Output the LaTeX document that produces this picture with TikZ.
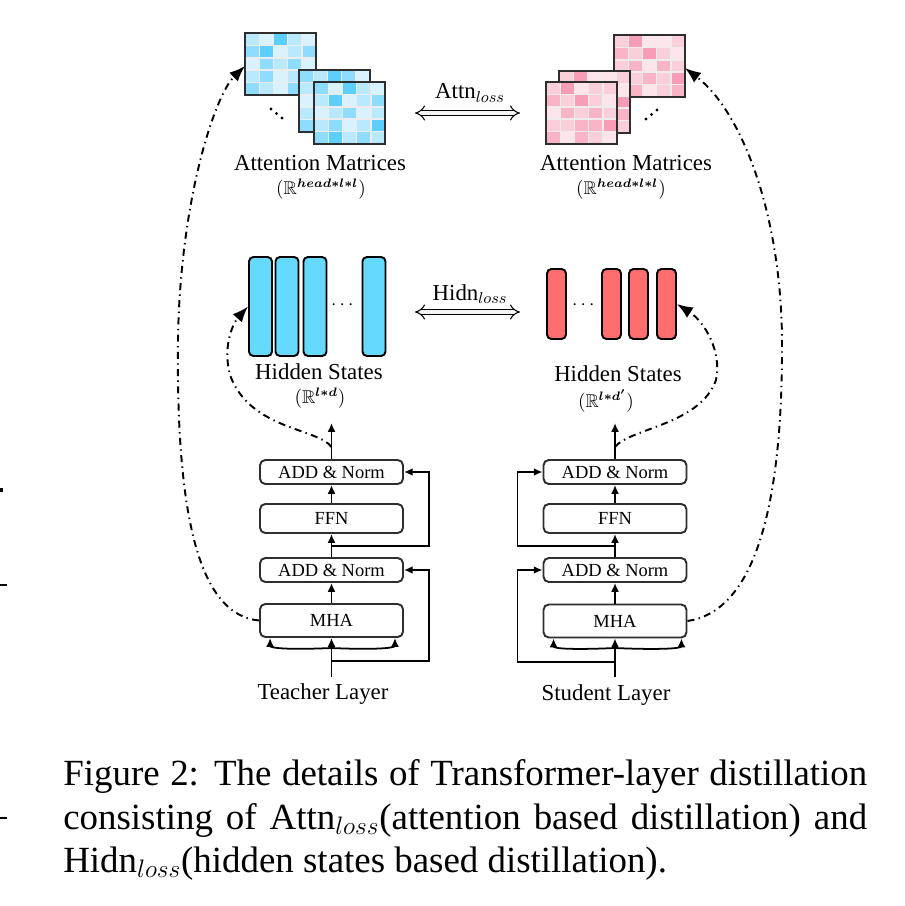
\documentclass[tikz,border=0pt]{standalone}
\usepackage{fontspec}
\setmainfont{Liberation Serif}
\usepackage{amsmath,amssymb}
\usetikzlibrary{arrows.meta,calc}

\definecolor{bl1}{HTML}{5CCFFF}
\definecolor{bl2}{HTML}{8EDCFF}
\definecolor{bl3}{HTML}{B8E9FF}
\definecolor{bl4}{HTML}{D8F3FF}
\definecolor{pk1}{HTML}{F79DB5}
\definecolor{pk2}{HTML}{F9B4C5}
\definecolor{pk3}{HTML}{FBCFD9}
\definecolor{pk4}{HTML}{FDE5EB}
\definecolor{hidblue}{HTML}{66D9FF}
\definecolor{hidred}{HTML}{FF6E6E}
\definecolor{edgegray}{HTML}{2E2E2E}

\tikzset{
  box/.style={draw=edgegray, line width=1.1pt, rounded corners=3pt, minimum width=2.86cm,
    inner sep=0pt, font=\fontsize{10.5}{12}\selectfont},
  hbar/.style={draw=black, line width=1.1pt, rounded corners=2.5pt, inner sep=0pt},
  lbl/.style={inner sep=0pt, font=\fontsize{13}{15}\selectfont},
  mlbl/.style={inner sep=0pt, font=\fontsize{10.5}{12}\selectfont},
  flow/.style={line width=1pt, -{Latex[length=5pt,width=4.5pt]}},
  distil/.style={line width=1.1pt, dash pattern=on 4pt off 2.5pt on 0.8pt off 2.5pt,
    -{Latex[length=9pt,width=7pt]}},
  lossarrow/.style={double=gray!8, double distance=2.4pt, line width=0.6pt, {Implies}-{Implies}},
  cellline/.style={draw=gray!15, line width=0.8pt},
  matframe/.style={draw=edgegray, line width=1.3pt},
  capline/.style={anchor=base west, inner sep=0pt, font=\fontsize{21}{25}\selectfont},
}

% 5x5 attention matrix: x, y (top left), palette, 25 shades
\newcommand{\attnmat}[4]{%
  \fill[white] (#1,#2) rectangle ++(71,62);
  \foreach \s [count=\k from 0] in {#4} {
    \pgfmathtruncatemacro{\cc}{mod(\k,5)}
    \pgfmathtruncatemacro{\rr}{\k/5}
    \fill[fill=#3\s] ($(#1,#2)+(\cc*14.2,\rr*12.4)$) rectangle ++(14.2,12.4);
  }
  \foreach \i in {1,...,4} {
    \draw[cellline] ($(#1,#2)+(\i*14.2,0)$) -- ++(0,62);
    \draw[cellline] ($(#1,#2)+(0,\i*12.4)$) -- ++(71,0);
  }
  \draw[matframe] (#1,#2) rectangle ++(71,62);
}

\begin{document}
\begin{tikzpicture}[x=0.02cm, y=-0.02cm]
  \useasboundingbox (0,0) rectangle (904,906);

  % attention matrices
  \attnmat{245}{33}{bl}{3,4,1,3,4, 2,1,4,3,2, 4,2,3,2,4, 3,2,4,3,2, 2,3,4,2,3}
  \attnmat{299}{70}{bl}{2,3,1,2,4, 3,4,2,3,2, 4,3,3,2,4, 3,2,4,3,2, 2,3,4,2,3}
  \attnmat{314}{82}{bl}{2,4,1,3,4, 3,1,4,3,2, 4,3,2,4,3, 3,2,4,3,1, 2,1,3,2,3}
  \foreach \d in {0,1,2} \fill ({271+5.5*\d},{109+4.5*\d}) circle (1.6);

  \attnmat{614}{35}{pk}{3,1,4,4,3, 2,3,1,3,4, 3,2,4,2,3, 4,3,2,3,1, 3,2,4,3,2}
  \attnmat{559}{71}{pk}{3,1,4,4,3, 2,3,2,3,4, 3,2,4,2,1, 4,3,2,3,2, 3,4,3,2,3}
  \attnmat{546}{82}{pk}{3,1,4,3,3, 2,3,1,3,4, 4,2,3,2,3, 3,3,2,2,1, 2,4,2,3,4}
  \foreach \d in {0,1,2} \fill ({646+5.5*\d},{119-4.5*\d}) circle (1.6);

  \node[lbl] (tAttnLbl) at (320,163) {Attention Matrices};
  \node[mlbl] (tAttnDim) at (321,189) {$(\mathbb{R}^{\boldsymbol{head*l*l}})$};
  \node[lbl] (sAttnLbl) at (626,163) {Attention Matrices};
  \node[mlbl] (sAttnDim) at (621,189) {$(\mathbb{R}^{\boldsymbol{head*l*l}})$};

  \coordinate (attnL) at (415,113);
  \coordinate (attnR) at (520,113);
  \draw[lossarrow] (attnL) -- (attnR);
  \node[lbl] (attnLoss) at (470,93) {Attn$_{loss}$};

  % hidden states
  \node[hbar, fill=hidblue, minimum width=0.46cm, minimum height=1.98cm] (tH1) at (260.5,306.5) {};
  \node[hbar, fill=hidblue, minimum width=0.46cm, minimum height=1.98cm] (tH2) at (287,306.5) {};
  \node[hbar, fill=hidblue, minimum width=0.46cm, minimum height=1.98cm] (tH3) at (315,306.5) {};
  \node[hbar, fill=hidblue, minimum width=0.46cm, minimum height=1.98cm] (tH4) at (374,306.5) {};
  \node[mlbl] (tHDots) at (344,305) {$\cdots$};

  \node[hbar, fill=hidred, minimum width=0.38cm, minimum height=1.4cm] (sH1) at (556.5,304) {};
  \node[hbar, fill=hidred, minimum width=0.38cm, minimum height=1.4cm] (sH2) at (611.5,304) {};
  \node[hbar, fill=hidred, minimum width=0.38cm, minimum height=1.4cm] (sH3) at (638.5,304) {};
  \node[hbar, fill=hidred, minimum width=0.38cm, minimum height=1.4cm] (sH4) at (666.5,304) {};
  \node[mlbl] (sHDots) at (585,305) {$\cdots$};

  \node[lbl] (tHidLbl) at (319,372) {Hidden States};
  \node[mlbl] (tHidDim) at (320,398) {$(\mathbb{R}^{\boldsymbol{l*d}})$};
  \node[lbl] (sHidLbl) at (618,374) {Hidden States};
  \node[mlbl] (sHidDim) at (606,401) {$(\mathbb{R}^{\boldsymbol{l*d'}})$};

  \coordinate (hidnL) at (415,312);
  \coordinate (hidnR) at (520,312);
  \draw[lossarrow] (hidnL) -- (hidnR);
  \node[lbl] (hidnLoss) at (470,294) {Hidn$_{loss}$};

  % teacher layer
  \node[box, minimum height=0.48cm] (tAdd2) at (331.5,472) {ADD \& Norm};
  \node[box, minimum height=0.58cm] (tFfn) at (331.5,518.5) {FFN};
  \node[box, minimum height=0.48cm] (tAdd1) at (331.5,570) {ADD \& Norm};
  \node[box, minimum height=0.66cm] (tMha) at (331.5,620.5) {MHA};
  \node[lbl] (tName) at (323,694) {Teacher Layer};

  \coordinate (tIn) at (331.5,677);
  \coordinate (tOut) at (331.5,423);
  \coordinate (tSplit) at (331.5,648);
  \coordinate (tRes1) at (331.5,661);
  \coordinate (tRes2) at (331.5,546);
  \coordinate (tTap) at (331.5,447);
  \coordinate (tMhaL) at ($(tMha.south west)+(11,0)$);
  \coordinate (tMhaR) at ($(tMha.south east)+(-9,0)$);

  \draw[flow] (tIn) -- (tMha);
  \draw[flow] (tSplit) .. controls ($(tSplit)+(-45,2)$) and ($(tMhaL)+(0,10)$) .. (tMhaL);
  \draw[flow] (tSplit) .. controls ($(tSplit)+(45,2)$) and ($(tMhaR)+(0,10)$) .. (tMhaR);
  \draw[flow] (tMha) -- (tAdd1);
  \draw[flow] (tAdd1) -- (tFfn);
  \draw[flow] (tFfn) -- (tAdd2);
  \draw[flow] (tAdd2) -- (tOut);
  \draw[flow] (tRes1) -| ($(tAdd1.east)+(25,0)$) -- (tAdd1.east);
  \draw[flow] (tRes2) -| ($(tAdd2.east)+(25,0)$) -- (tAdd2.east);

  % student layer
  \node[box, minimum height=0.48cm] (sAdd2) at (615,472) {ADD \& Norm};
  \node[box, minimum height=0.58cm] (sFfn) at (615,518.5) {FFN};
  \node[box, minimum height=0.48cm] (sAdd1) at (615,570) {ADD \& Norm};
  \node[box, minimum height=0.66cm] (sMha) at (615,621) {MHA};
  \node[lbl] (sName) at (606,695) {Student Layer};

  \coordinate (sIn) at (615,677);
  \coordinate (sOut) at (615,423);
  \coordinate (sSplit) at (615,648);
  \coordinate (sRes1) at (615,662);
  \coordinate (sRes2) at (615,546);
  \coordinate (sTap) at (615,447);
  \coordinate (sMhaL) at ($(sMha.south west)+(11,0)$);
  \coordinate (sMhaR) at ($(sMha.south east)+(-6,0)$);

  \draw[flow] (sIn) -- (sMha);
  \draw[flow] (sSplit) .. controls ($(sSplit)+(-45,2)$) and ($(sMhaL)+(0,10)$) .. (sMhaL);
  \draw[flow] (sSplit) .. controls ($(sSplit)+(45,2)$) and ($(sMhaR)+(0,10)$) .. (sMhaR);
  \draw[flow] (sMha) -- (sAdd1);
  \draw[flow] (sAdd1) -- (sFfn);
  \draw[flow] (sFfn) -- (sAdd2);
  \draw[flow] (sAdd2) -- (sOut);
  \draw[flow] (sRes1) -| ($(sAdd1.west)+(-25,0)$) -- (sAdd1.west);
  \draw[flow] (sRes2) -| ($(sAdd2.west)+(-25,0)$) -- (sAdd2.west);

  % distillation links
  \coordinate (tAttnIn) at (245,66);
  \coordinate (sAttnIn) at (685,68);
  \draw[distil] (tMha.west) .. controls (200,615) and (176,520) .. (178,340)
    .. controls (180,200) and (215,95) .. (tAttnIn);
  \draw[distil] (sMha.east) .. controls (750,612) and (783,520) .. (782,340)
    .. controls (781,210) and (740,110) .. (sAttnIn);
  \draw[distil] (tTap) .. controls (318,428) and (250,430) .. (230,375)
    .. controls (222,345) and (234,322) .. (tH1.west);
  \draw[distil] (sTap) .. controls (630,428) and (700,425) .. (716,380)
    .. controls (722,352) and (705,322) .. (sH4.east);

  % caption
  \node[capline] (cap1) at (63,785) {\makebox[16.08cm][s]{Figure 2: The details of Transformer-layer distillation}};
  \node[capline] (cap2) at (63,829) {\makebox[16.08cm][s]{consisting of Attn$_{loss}$(attention based distillation) and}};
  \node[capline] (cap3) at (63,872) {Hidn$_{loss}$(hidden states based distillation).};

  % margin marks
  \fill (0,488) rectangle (3,492);
  \fill (0,584) rectangle (7,586);
  \fill (0,817) rectangle (7,819);
\end{tikzpicture}
\end{document}
